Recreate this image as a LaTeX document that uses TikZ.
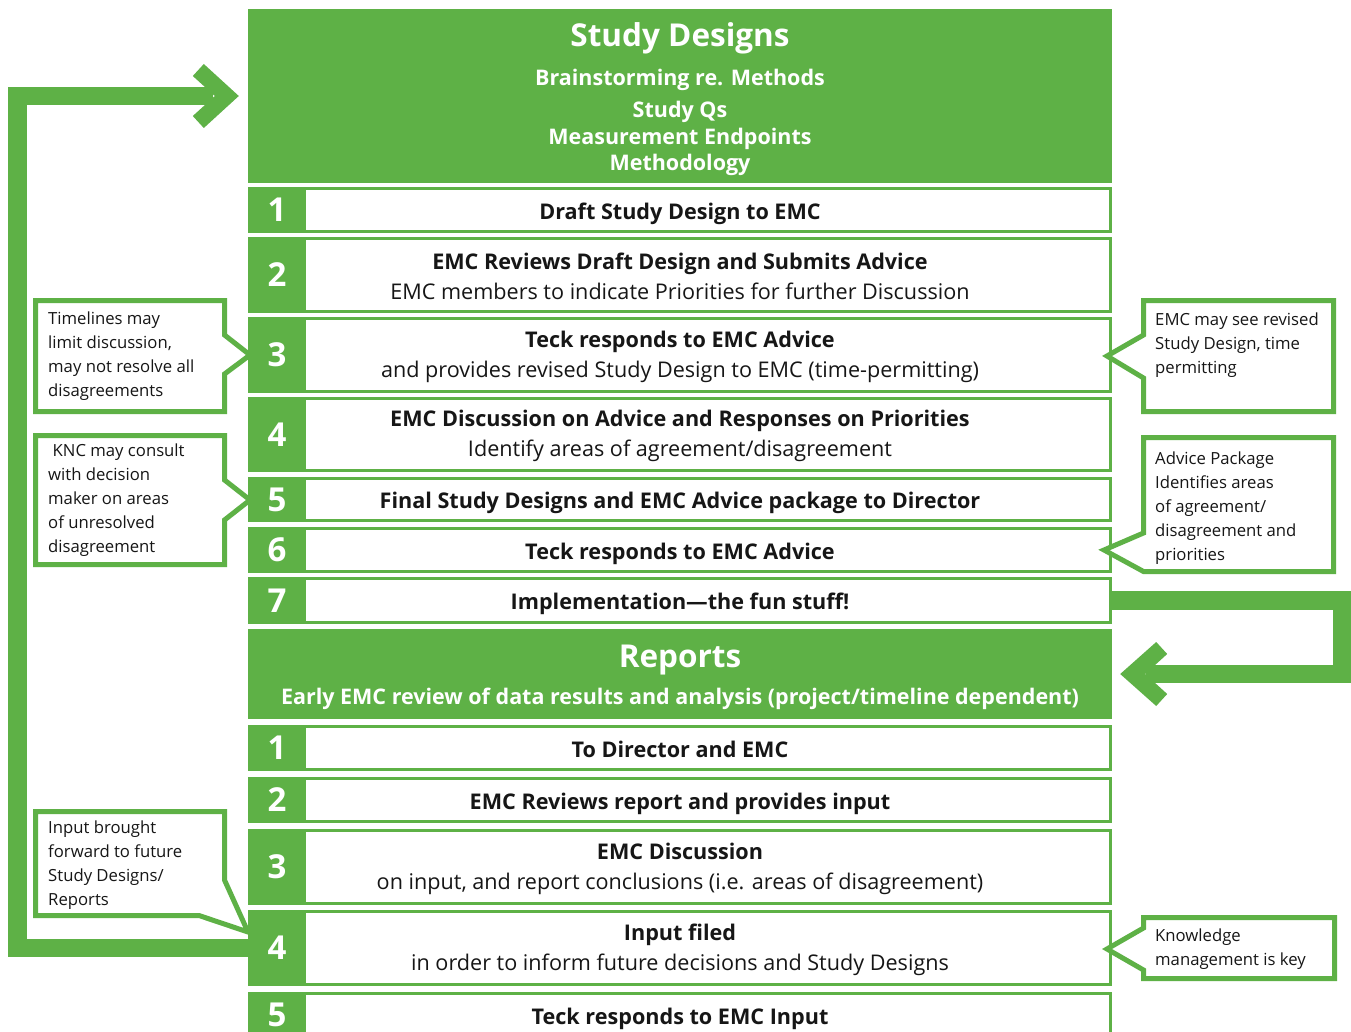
\documentclass[tikz,border=0pt]{standalone}
\usepackage{fontspec}
\setmainfont{Open Sans}
\definecolor{grn}{RGB}{94,177,70}
\definecolor{ink}{RGB}{22,22,22}
\tikzset{
  rowbox/.style={draw=grn, line width=3pt, fill=white, minimum width=861pt, inner sep=0pt,
    align=center, text=ink, font=\fontsize{21.6}{30}\selectfont},
  oneline/.style={text height=15.5pt, text depth=0pt},
  numcell/.style={fill=grn, minimum width=58pt, inner sep=0pt, text=white,
    font=\fontsize{33}{33}\selectfont\bfseries, text height=23.6pt, text depth=0pt},
  hdrtitle/.style={text=white, font=\fontsize{31.5}{31.5}\selectfont\bfseries, inner sep=0pt,
    text height=22.7pt, text depth=0pt},
  hdrsub/.style={text=white, font=\fontsize{21.5}{21.5}\selectfont\bfseries, inner sep=0pt,
    text height=15.5pt, text depth=0pt},
  hdrbox/.style={fill=grn, minimum width=864pt, inner sep=0pt},
  callout/.style={draw=grn, line width=5pt, fill=white, line join=miter},
  calltext/.style={anchor=north west, inner sep=0pt, align=left, text=ink,
    font=\fontsize{16.7}{24}\selectfont, execute at begin node={\rule{0pt}{15pt}}},
  fbline/.style={draw=grn, line width=18.5pt, line join=miter},
}
\newcommand{\procrow}[6][]{%
  \node[rowbox, #1, minimum height={#5-#4-3}] (#2) at (680,{(#4+#5)/2}) {};
  \node[align=center, text=ink, font=\fontsize{21.6}{30}\selectfont, inner sep=0pt, #1, yshift=-1.5pt] (#2t) at (#2.center) {#6};
  \node[numcell, minimum height={#5-#4}] (#2n) at (277,{(#4+#5)/2}) {#3};
}
\begin{document}
\begin{tikzpicture}[x=1pt,y=-1pt]
\clip (0,0) rectangle (1351,1032);
\fill[white] (0,0) rectangle (1351,1032);

% ---- Study Designs header
\node[hdrbox, minimum height=174pt] (sd) at (680,96) {};
\node[hdrtitle] (sdt) at (680,35) {Study Designs};
\node[hdrsub] (sda) at (680,77.5) {Brainstorming re. Methods};
\node[hdrsub] (sdb) at (680,110) {Study Qs};
\node[hdrsub] (sdc) at (680,137) {Measurement Endpoints};
\node[hdrsub] (sdd) at (680,162.5) {Methodology};

% ---- Study design steps
\procrow[oneline]{s1}{1}{187}{233}{\bfseries Draft Study Design to EMC}
\procrow{s2}{2}{237}{313}{{\bfseries EMC Reviews Draft Design and Submits Advice}\\EMC members to indicate Priorities for further Discussion}
\procrow{s3}{3}{317}{393}{{\bfseries Teck responds to EMC Advice}\\and provides revised Study Design to EMC (time-permitting)}
\procrow{s4}{4}{397}{472}{{\bfseries EMC Discussion on Advice and Responses on Priorities}\\Identify areas of agreement/disagreement}
\procrow[oneline]{s5}{5}{477}{522}{\bfseries Final Study Designs and EMC Advice package to Director}
\procrow[oneline]{s6}{6}{527}{573}{\bfseries Teck responds to EMC Advice}
\procrow[oneline]{s7}{7}{577}{624}{\bfseries Implementation—the fun stuff!}

% ---- Reports header
\node[hdrbox, minimum height=90pt] (rh) at (680,674) {};
\node[hdrtitle] (rht) at (680,656) {Reports};
\node[hdrsub] (rhs) at (680,697) {Early EMC review of data results and analysis (project/timeline dependent)};

% ---- Report steps
\procrow[oneline]{r1}{1}{725}{771}{\bfseries To Director and EMC}
\procrow[oneline]{r2}{2}{777}{823}{\bfseries EMC Reviews report and provides input}
\procrow{r3}{3}{829}{905}{{\bfseries EMC Discussion}\\on input, and report conclusions (i.e. areas of disagreement)}
\procrow{r4}{4}{910}{986}{{\bfseries Input filed}\\in order to inform future decisions and Study Designs}
\procrow[oneline]{r5}{5}{992}{1038}{\bfseries Teck responds to EMC Input}

% ---- feedback arrows
\coordinate (ltip) at ([xshift=-9pt]sd.west);
\draw[fbline] (r4n.west) -- ++(-230.5,0) |- ([xshift=-26pt]ltip);
\fill[grn] (ltip) -- ++(-35,-32) -- ++(-11,12) -- ++(22,20) -- ++(-22,20) -- ++(11,12) -- cycle;

\coordinate (rtip) at ([xshift=8pt]rh.east);
\draw[fbline] (s7.east) -- ++(230,0) |- ([xshift=26pt]rtip);
\fill[grn] (rtip) -- ++(36,-32) -- ++(11,12) -- ++(-22,20) -- ++(22,20) -- ++(-11,12) -- cycle;

% ---- callouts left
\draw[callout] (35.5,300.5) -- (224.5,300.5) -- (224.5,335) -- (250,355) -- (224.5,374) -- (224.5,411.5) -- (35.5,411.5) -- cycle;
\node[calltext] (ca) at (48,312) {Timelines may\\limit discussion,\\may not resolve all\\disagreements};

\draw[callout] (35.5,435.5) -- (224.5,435.5) -- (224.5,480) -- (250,500) -- (224.5,520) -- (224.5,564.5) -- (35.5,564.5) -- cycle;
\node[calltext] (cb) at (48,444) {\hspace*{4.5pt}KNC may consult\\with decision\\maker on areas\\of unresolved\\disagreement};

\draw[callout] (35.5,811.5) -- (224.5,811.5) -- (224.5,880) -- (248,932) -- (199,915.5) -- (35.5,915.5) -- cycle;
\node[calltext] (cc) at (48,820.5) {Input brought\\forward to future\\Study Designs/\\Reports};

% ---- callouts right
\draw[callout] (1143.5,300.5) -- (1333.5,300.5) -- (1333.5,411.5) -- (1143.5,411.5) -- (1143.5,378) -- (1107,356) -- (1143.5,335) -- cycle;
\node[calltext] (cd) at (1155,313) {EMC may see revised\\Study Design, time\\permitting};

\draw[callout] (1143.5,437.5) -- (1333.5,437.5) -- (1333.5,571.5) -- (1143.5,571.5) -- (1104,550) -- (1143.5,533) -- cycle;
\node[calltext] (ce) at (1155,451.5) {Advice Package\\Identifies areas\\of agreement/\\disagreement and\\priorities};

\draw[callout] (1143.5,917.5) -- (1334.5,917.5) -- (1334.5,978.5) -- (1143.5,978.5) -- (1143.5,970) -- (1107,949) -- (1143.5,928) -- cycle;
\node[calltext] (cf) at (1155,928.5) {Knowledge\\management is key};
\end{tikzpicture}
\end{document}
